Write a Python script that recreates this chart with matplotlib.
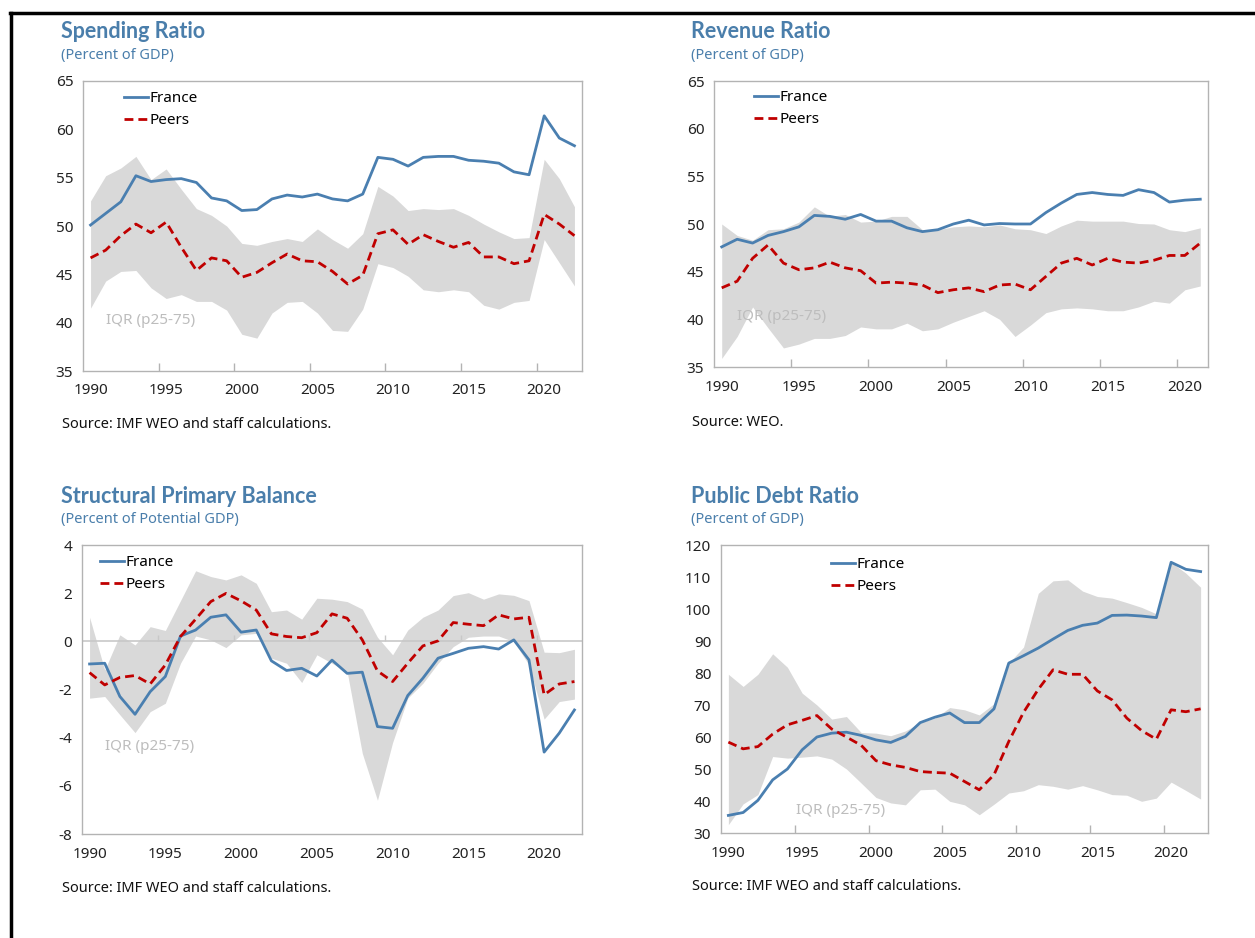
import matplotlib.pyplot as plt
from matplotlib.lines import Line2D

plt.rcParams['font.family'] = ['Noto Sans', 'DejaVu Sans']

# ---- data ----
years_a = list(range(1990, 2023))   # 33 points
years_rev = list(range(1990, 2022)) # 32 points

spend_fra = [50.1, 51.3, 52.5, 55.2, 54.6, 54.8, 54.9, 54.5, 52.9, 52.6, 51.6, 51.7, 52.8,
             53.2, 53.0, 53.3, 52.8, 52.6, 53.3, 57.1, 56.9, 56.2, 57.1, 57.2, 57.2, 56.8,
             56.7, 56.5, 55.6, 55.3, 61.4, 59.1, 58.3]
spend_peers = [46.7, 47.5, 49.0, 50.2, 49.3, 50.4, 47.8, 45.4, 46.7, 46.4, 44.7, 45.2, 46.2,
               47.1, 46.4, 46.3, 45.3, 44.0, 44.9, 49.2, 49.6, 48.1, 49.1, 48.4, 47.8, 48.3,
               46.8, 46.8, 46.1, 46.4, 51.2, 50.2, 49.0]
spend_hi = [52.6, 55.2, 56.0, 57.2, 54.8, 55.9, 53.8, 51.8, 51.1, 50.0, 48.2, 48.0, 48.4,
            48.7, 48.4, 49.7, 48.6, 47.7, 49.2, 54.1, 53.1, 51.6, 51.8, 51.7, 51.8, 51.1,
            50.2, 49.4, 48.7, 48.8, 56.9, 54.9, 52.0]
spend_lo = [41.5, 44.3, 45.3, 45.4, 43.6, 42.5, 42.9, 42.2, 42.2, 41.3, 38.8, 38.4, 41.0,
            42.1, 42.2, 41.0, 39.2, 39.1, 41.4, 46.1, 45.7, 44.8, 43.4, 43.2, 43.4, 43.2,
            41.8, 41.4, 42.1, 42.3, 48.6, 46.2, 43.8]

rev_fra = [47.6, 48.4, 48.0, 48.8, 49.2, 49.7, 50.9, 50.8, 50.5, 51.0, 50.3, 50.3, 49.6,
           49.2, 49.4, 50.0, 50.4, 49.9, 50.05, 50.0, 50.0, 51.2, 52.2, 53.1, 53.3, 53.1,
           53.0, 53.6, 53.3, 52.3, 52.5, 52.6]
rev_peers = [43.3, 44.0, 46.4, 47.8, 45.9, 45.2, 45.4, 46.0, 45.4, 45.1, 43.8, 43.9, 43.8,
             43.6, 42.8, 43.1, 43.3, 42.9, 43.6, 43.7, 43.1, 44.5, 45.9, 46.4, 45.7, 46.4,
             46.0, 45.9, 46.2, 46.7, 46.7, 48.0]
rev_hi = [50.0, 48.8, 48.3, 49.4, 49.5, 50.2, 51.8, 50.8, 51.0, 50.2, 50.3, 50.8, 50.8,
          49.4, 49.4, 49.7, 49.8, 49.7, 49.9, 49.5, 49.4, 49.0, 49.8, 50.4, 50.3, 50.3,
          50.3, 50.05, 50.0, 49.4, 49.2, 49.6]
rev_lo = [35.9, 38.2, 41.3, 39.1, 37.0, 37.4, 38.0, 38.0, 38.3, 39.2, 39.0, 39.0, 39.6,
          38.8, 39.0, 39.7, 40.3, 40.9, 40.0, 38.2, 39.4, 40.7, 41.1, 41.2, 41.1, 40.9,
          40.9, 41.3, 41.9, 41.7, 43.1, 43.5]

spb_fra = [-0.94, -0.91, -2.29, -3.03, -2.09, -1.46, 0.22, 0.47, 1.0, 1.1, 0.38, 0.47, -0.81,
           -1.21, -1.12, -1.44, -0.78, -1.33, -1.28, -3.54, -3.61, -2.25, -1.53, -0.70, -0.50,
           -0.29, -0.22, -0.32, 0.06, -0.77, -4.6, -3.81, -2.85]
spb_peers = [-1.30, -1.81, -1.50, -1.42, -1.77, -0.98, 0.20, 0.92, 1.65, 1.99, 1.68, 1.30, 0.31,
             0.20, 0.15, 0.36, 1.14, 0.96, 0.06, -1.23, -1.67, -0.91, -0.19, 0.02, 0.78, 0.71,
             0.65, 1.10, 0.93, 1.0, -2.22, -1.77, -1.67]
spb_hi = [1.0, -1.19, 0.27, -0.15, 0.61, 0.45, 1.69, 2.93, 2.69, 2.55, 2.76, 2.41, 1.23,
          1.30, 0.92, 1.79, 1.75, 1.65, 1.34, 0.17, -0.56, 0.47, 1.0, 1.30, 1.90, 2.02,
          1.75, 1.97, 1.91, 1.69, -0.45, -0.47, -0.33]
spb_lo = [-2.36, -2.29, -3.05, -3.79, -2.92, -2.57, -0.91, 0.22, 0.06, -0.26, 0.27, 0.33, -0.70,
          -0.91, -1.71, -0.56, -0.91, -1.26, -4.65, -6.6, -4.2, -2.36, -1.74, -0.91, -0.22,
          0.17, 0.22, 0.22, -0.01, -0.98, -3.23, -2.5, -2.4]

debt_fra = [35.5, 36.4, 40.2, 46.6, 50.0, 56.0, 60.0, 61.2, 61.5, 60.5, 59.1, 58.3, 60.2,
            64.5, 66.2, 67.5, 64.5, 64.5, 68.8, 83.1, 85.4, 87.8, 90.6, 93.3, 94.9, 95.6,
            98.0, 98.1, 97.8, 97.3, 114.6, 112.4, 111.7]
debt_peers = [58.4, 56.3, 57.0, 60.9, 63.8, 65.2, 66.7, 62.5, 60.0, 57.4, 52.6, 51.3, 50.5,
              49.2, 48.9, 48.7, 46.1, 43.5, 48.2, 58.6, 67.7, 74.9, 81.0, 79.6, 79.6, 74.4,
              71.6, 65.9, 62.0, 59.3, 68.5, 67.9, 68.8]
debt_hi = [79.6, 75.8, 79.6, 86.0, 81.8, 73.7, 70.0, 65.6, 66.4, 61.4, 61.2, 60.4, 61.9,
           64.5, 65.9, 69.2, 68.5, 66.9, 70.4, 83.1, 88.1, 104.9, 108.8, 109.1, 105.6, 103.9,
           103.4, 102.0, 100.5, 98.5, 114.6, 111.2, 106.8]
debt_lo = [32.6, 39.1, 42.0, 53.9, 53.4, 53.7, 54.1, 53.1, 50.0, 45.6, 41.1, 39.4, 38.8,
           43.5, 43.7, 39.9, 38.8, 35.7, 39.0, 42.5, 43.2, 45.1, 44.6, 43.7, 44.8, 43.5,
           42.0, 41.8, 39.9, 40.9, 45.9, 43.3, 40.6]

BLUE = '#4a7fb0'
TITLE = '#4a7eab'
RED = '#c00000'
BAND = '#d9d9d9'
SPINE = '#b3b3b3'

W, H = 1255, 938
fig = plt.figure(figsize=(W / 100, H / 100), dpi=100)


def px_axes(l, t, r, b):
    return fig.add_axes([l / W, 1 - b / H, (r - l) / W, (b - t) / H])


def panel(box, years, fra, peers, lo, hi, ylim, ystep, title, sub, src, tpos,
          leg_pos, iqr_x, iqr_y, zero=False):
    ax = px_axes(*box)
    x = list(range(len(years)))
    ax.fill_between(x, lo, hi, color=BAND, lw=0, zorder=1)
    if zero:
        ax.axhline(0, color='#c8c8c8', lw=1.2, zorder=1.5)
    l1, = ax.plot(x, fra, color=BLUE, lw=2.0, zorder=3)
    l2, = ax.plot(x, peers, color=RED, lw=2.0, ls=(0, (3.2, 1.8)), zorder=3)
    ax.set_xlim(-0.5, len(years) - 0.5)
    ax.set_ylim(*ylim)
    yt = list(range(ylim[0], ylim[1] + 1, ystep))
    ax.set_yticks(yt)
    ax.set_yticklabels([str(v) for v in yt])
    ax.set_xticks(x[::5])
    ax.set_xticklabels([str(y) for y in years[::5]])
    ax.tick_params(axis='both', length=0, labelsize=11, colors='#222222')
    ax.tick_params(axis='y', pad=7)
    ax.tick_params(axis='x', pad=9)
    bounds = [i + 0.5 for i in x[4::5] if i + 0.5 < len(years) - 0.5]
    if zero:
        span = ylim[1] - ylim[0]
        ax.vlines(bounds, 0, span * 0.022, color='#c8c8c8', lw=1.0, zorder=1.5)
    else:
        ax.set_xticks(bounds, minor=True)
        ax.tick_params(axis='x', which='minor', direction='in', length=6,
                       color=SPINE, width=1.0)
    for s in ax.spines.values():
        s.set_color(SPINE)
        s.set_linewidth(1.0)
    ax.text(iqr_x, iqr_y, 'IQR (p25-75)', color='#bdbdbd', fontsize=11,
            va='center', ha='left')
    fig.legend([l1, l2], ['France', 'Peers'], loc='upper left',
               bbox_to_anchor=(leg_pos[0] / W, 1 - leg_pos[1] / H),
               frameon=False, fontsize=11, handlelength=1.6, handletextpad=0.1,
               labelspacing=0.45, borderpad=0, borderaxespad=0)
    fig.text(tpos[0] / W, 1 - tpos[1] / H, title, color=TITLE, fontsize=15.5,
             fontweight='bold', family=['Lato', 'DejaVu Sans'], va='center', ha='left')
    fig.text(tpos[0] / W, 1 - (tpos[1] + 23) / H, sub, color=TITLE, fontsize=10.5,
             va='center', ha='left')
    fig.text((tpos[0] + 1) / W, 1 - src[1] / H, src[0], color='#111111', fontsize=10.5,
             va='center', ha='left')
    return ax


panel((83, 81, 582, 371), years_a, spend_fra, spend_peers, spend_lo, spend_hi,
      (35, 65), 5, 'Spending Ratio', '(Percent of GDP)',
      ('Source: IMF WEO and staff calculations.', 424), (61, 32),
      (124, 91), 1.0, 40.2)
panel((714, 81, 1208, 367), years_rev, rev_fra, rev_peers, rev_lo, rev_hi,
      (35, 65), 5, 'Revenue Ratio', '(Percent of GDP)',
      ('Source: WEO.', 422), (691, 32),
      (754, 90), 1.0, 40.3)
panel((82, 545, 582, 834), years_a, spb_fra, spb_peers, spb_lo, spb_hi,
      (-8, 4), 2, 'Structural Primary Balance', '(Percent of Potential GDP)',
      ('Source: IMF WEO and staff calculations.', 888), (61, 496),
      (100, 555), 1.0, -4.35, zero=True)
panel((721, 545, 1208, 833), years_a, debt_fra, debt_peers, debt_lo, debt_hi,
      (30, 120), 10, 'Public Debt Ratio', '(Percent of GDP)',
      ('Source: IMF WEO and staff calculations.', 886), (691, 496),
      (831, 557), 4.6, 36.9)

# outer frame lines (top and left)
fig.add_artist(Line2D([10 / W, 1], [1 - 13 / H, 1 - 13 / H], color='black', lw=2.5))
fig.add_artist(Line2D([11 / W, 11 / W], [0, 1 - 13 / H], color='black', lw=2.5))

fig.savefig('out.png', dpi=100)
